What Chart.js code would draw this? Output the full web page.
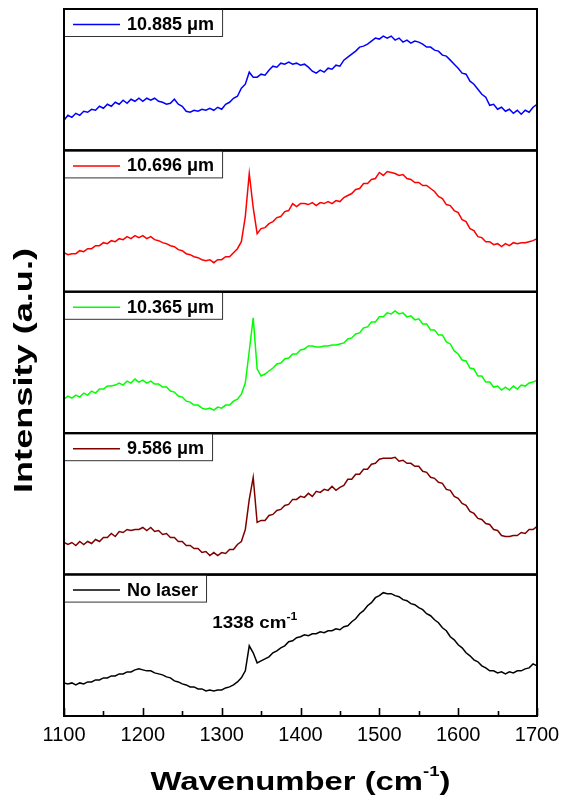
<!DOCTYPE html>
<html><head><meta charset="utf-8">
<script src="https://cdn.jsdelivr.net/npm/chart.js@4.4.0/dist/chart.umd.min.js"></script>
<style>html,body{margin:0;padding:0;background:#fff;}#wrap{position:relative;width:564px;height:798px;}</style>
</head><body><div id="wrap"><canvas id="c" width="564" height="798"></canvas></div>
<script>
// ---------- DATA ----------
const wavenumbers = [
1100,1105,1110,1115,1120,1125,1130,1135,1140,1145,
1150,1155,1160,1165,1170,1175,1180,1185,1190,1195,
1200,1205,1210,1215,1220,1225,1230,1235,1240,1245,
1250,1255,1260,1265,1270,1275,1280,1285,1290,1295,
1300,1305,1310,1315,1320,1325,1330,1335,1340,1345,
1350,1355,1360,1365,1370,1375,1380,1385,1390,1395,
1400,1405,1410,1415,1420,1425,1430,1435,1440,1445,
1450,1455,1460,1465,1470,1475,1480,1485,1490,1495,
1500,1505,1510,1515,1520,1525,1530,1535,1540,1545,
1550,1555,1560,1565,1570,1575,1580,1585,1590,1595,
1600,1605,1610,1615,1620,1625,1630,1635,1640,1645,
1650,1655,1660,1665,1670,1675,1680,1685,1690,1695,
1700];
const seriesNames = ['10.885 \u03bcm','10.696 \u03bcm','10.365 \u03bcm','9.586 \u03bcm','No laser'];
const laser10885 = [
30,35,33,37,35,39,38,41,40,44,
42,46,44,48,46,50,47,51,49,52,
49,52,50,52,49,48,46,47,51,46,
44,39,38,40,39,41,40,42,40,43,
41,46,48,52,54,62,66,78,73,73,
76,75,80,84,83,87,86,88,86,87,
85,86,83,79,77,80,78,82,81,85,
84,90,93,96,99,103,104,106,109,112,
111,114,112,114,110,112,108,110,107,109,
108,106,103,103,100,99,95,94,90,86,
82,77,76,69,66,61,56,53,45,46,
41,43,39,41,37,40,36,40,38,43,
46];
const laser10696 = [
39,37,38,38,41,40,43,43,46,46,
49,48,51,50,53,52,55,53,56,54,
56,53,55,52,51,49,48,46,45,42,
41,38,37,35,34,32,31,32,29,32,
32,35,35,39,43,50,75,118,84,58,
63,64,68,70,74,75,80,81,88,85,
88,88,87,89,86,89,88,90,88,91,
90,94,96,98,102,103,108,108,112,113,
119,116,120,119,118,116,117,113,112,109,
109,106,106,103,100,95,93,87,86,81,
79,72,70,63,61,55,54,50,50,47,
48,45,48,46,49,48,49,49,50,51,
53];
const laser10365 = [
34,37,35,38,36,40,38,42,40,44,
44,47,47,48,50,48,52,50,54,51,
53,50,52,49,49,46,46,42,41,37,
36,32,31,28,28,25,24,25,23,26,
25,28,28,32,34,39,50,82,115,64,
57,59,62,65,69,70,74,75,79,79,
83,84,87,87,86,86,87,87,88,88,
89,90,94,95,99,100,105,106,111,111,
116,116,120,119,122,119,120,116,117,113,
114,109,109,103,103,98,98,91,89,82,
79,73,72,65,64,57,57,51,51,46,
47,43,46,43,47,44,48,47,50,51,
53];
const laser9586 = [
32,30,32,29,33,30,33,31,35,33,
37,37,41,38,43,42,45,44,45,45,
47,44,47,43,44,40,41,37,37,33,
33,29,29,26,26,22,23,19,22,19,
22,21,25,25,30,33,45,75,97,52,
54,54,59,60,64,65,69,70,75,75,
78,77,81,78,83,82,85,84,88,84,
87,89,95,95,100,100,105,105,110,111,
115,116,116,116,117,113,114,111,111,108,
108,103,102,97,96,92,91,85,84,78,
76,71,69,63,61,56,55,51,50,45,
44,39,38,38,39,39,42,41,45,45,
48];
const noLaser = [
33,32,33,31,33,32,34,34,36,36,
38,38,40,40,42,42,44,44,46,47,
46,45,45,43,42,41,39,38,35,34,
32,31,29,29,27,27,25,26,25,26,
26,28,29,31,34,38,45,70,63,53,
55,57,59,63,65,68,70,74,75,78,
79,81,80,82,82,84,83,85,85,87,
86,89,90,94,97,102,105,110,113,118,
120,123,122,122,120,119,116,115,112,111,
108,106,102,100,96,93,88,85,79,76,
71,68,63,60,56,54,50,48,45,45,
43,44,42,44,43,45,45,47,48,52,
50];
const xMajorTicks = [1100,1200,1300,1400,1500,1600,1700];
const xMinorTicks = [1150,1250,1350,1450,1550,1650];
const xTitle = ['Wavenumber (cm', '-1', ')'];
const yTitle = 'Intensity (a.u.)';
const peakNote = ['1338 cm', '-1'];
const peakNoteAt = {x: 1288, y: 88};

// ---------- STYLE ----------
const FONT = '"Liberation Sans", Arial, Helvetica, sans-serif';
const colors = ['#0000ff', '#ff0000', '#00ff00', '#800000', '#000000'];
const seriesData = [laser10885, laser10696, laser10365, laser9586, noLaser];
const axisIds = ['yA', 'yB', 'yC', 'yD', 'yE']; // top -> bottom

Chart.defaults.font.family = FONT;
Chart.defaults.color = '#000';

const datasets = seriesData.map((arr, i) => ({
  label: seriesNames[i],
  data: wavenumbers.map((w, k) => ({x: w, y: arr[k]})),
  borderColor: colors[i],
  backgroundColor: colors[i],
  borderWidth: 1.5,
  pointRadius: 0,
  tension: 0,
  fill: false,
  yAxisID: axisIds[i]
}));

function yScaleOpts() {
  return {
    type: 'linear', min: 0, max: 141, stack: 'panels', stackWeight: 1,
    position: 'left', display: true,
    ticks: {display: false}, grid: {display: false, drawTicks: false},
    border: {display: false}
  };
}
const scales = {
  x: {
    type: 'linear', position: 'bottom', min: 1100, max: 1700,
    afterBuildTicks: (s) => { s.ticks = xMajorTicks.map(v => ({value: v})); },
    afterFit: (s) => { s.paddingLeft = 0; s.paddingRight = 0; },
    ticks: {font: {size: 20}, color: '#000', padding: 7, callback: v => String(v), maxRotation: 0},
    grid: {display: false, drawTicks: false},
    border: {display: false}
  }
};
for (let i = axisIds.length - 1; i >= 0; i--) scales[axisIds[i]] = yScaleOpts();

function drawParts(ctx, parts, x, y, targetW, align) {
  let total = 0;
  parts.forEach(p => { ctx.font = (p.weight || 'bold') + ' ' + p.size + 'px ' + FONT; p.w = ctx.measureText(p.text).width; total += p.w; });
  const s = targetW ? targetW / total : 1;
  const w = total * s;
  const x0 = align === 'center' ? x - w / 2 : x;
  ctx.save();
  ctx.translate(x0, y);
  ctx.scale(s, 1);
  ctx.textAlign = 'left';
  ctx.textBaseline = 'alphabetic';
  let cx = 0;
  parts.forEach(p => {
    ctx.font = (p.weight || 'bold') + ' ' + p.size + 'px ' + FONT;
    ctx.fillText(p.text, cx, p.dy || 0);
    cx += p.w;
  });
  ctx.restore();
}

const decor = {
  id: 'decor',
  afterDatasetsDraw(chart) {
    const ctx = chart.ctx;
    const ca = chart.chartArea;
    const xs = chart.scales.x;
    ctx.save();
    ctx.fillStyle = '#000';
    ctx.strokeStyle = '#000';
    ctx.lineWidth = 2;
    axisIds.forEach(id => {
      const s = chart.scales[id];
      ctx.strokeRect(ca.left, s.top, ca.right - ca.left, s.bottom - s.top);
    });
    ctx.lineWidth = 1.6;
    xMajorTicks.concat(xMinorTicks).forEach(v => {
      const px = Math.round(xs.getPixelForValue(v)) + 0.5;
      const len = xMajorTicks.includes(v) ? 8 : 5;
      ctx.beginPath(); ctx.moveTo(px, ca.bottom); ctx.lineTo(px, ca.bottom - len); ctx.stroke();
    });
    axisIds.forEach((id, i) => {
      const s = chart.scales[id];
      const top = s.top;
      ctx.font = 'bold 18px ' + FONT;
      const tw = ctx.measureText(seriesNames[i]).width;
      const bx = ca.left - 1, bw = 64 + tw + 8, bh = 27;
      ctx.fillStyle = '#fff';
      ctx.fillRect(bx + 0.5, top + 0.5, bw, bh);
      ctx.lineWidth = 1;
      ctx.strokeStyle = '#333';
      ctx.strokeRect(bx + 0.5, top + 0.5, bw, bh);
      ctx.strokeStyle = colors[i];
      ctx.lineWidth = 1.5;
      ctx.beginPath(); ctx.moveTo(ca.left + 9, top + 15.5); ctx.lineTo(ca.left + 56, top + 15.5); ctx.stroke();
      ctx.fillStyle = '#000';
      ctx.textAlign = 'left'; ctx.textBaseline = 'alphabetic';
      ctx.fillText(seriesNames[i], ca.left + 63, top + 21);
    });
    ctx.strokeStyle = '#000';
    ctx.fillStyle = '#000';
    ctx.lineWidth = 2;
    axisIds.forEach(id => {
      const s = chart.scales[id];
      ctx.beginPath(); ctx.moveTo(ca.left, s.top); ctx.lineTo(ca.right, s.top); ctx.stroke();
      ctx.beginPath(); ctx.moveTo(ca.left, s.top); ctx.lineTo(ca.left, s.bottom); ctx.stroke();
    });
    const ys = chart.scales[axisIds[4]];
    drawParts(ctx, [
      {text: peakNote[0], size: 17},
      {text: peakNote[1], size: 11, dy: -8}
    ], xs.getPixelForValue(peakNoteAt.x), ys.getPixelForValue(peakNoteAt.y), 85, 'left');
    drawParts(ctx, [
      {text: xTitle[0], size: 26.5},
      {text: xTitle[1], size: 15, dy: -14},
      {text: xTitle[2], size: 26.5}
    ], (ca.left + ca.right) / 2, 790, 300, 'center');
    ctx.save();
    ctx.translate(32, (ca.top + ca.bottom) / 2 + 8);
    ctx.rotate(-Math.PI / 2);
    drawParts(ctx, [{text: yTitle, size: 26.5}], 0, 0, 245, 'center');
    ctx.restore();
    ctx.restore();
  }
};

new Chart(document.getElementById('c'), {
  type: 'line',
  data: {datasets},
  options: {
    responsive: false,
    animation: false,
    events: [],
    layout: {padding: {left: 64, right: 27, top: 9, bottom: 44}},
    plugins: {legend: {display: false}, tooltip: {enabled: false}},
    scales
  },
  plugins: [decor]
});
</script></body></html>
